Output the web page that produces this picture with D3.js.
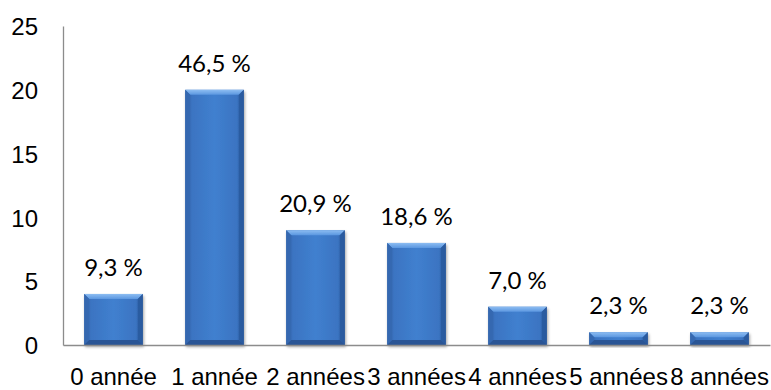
<!DOCTYPE html>
<html>
<head>
<meta charset="utf-8">
<script src="https://cdn.jsdelivr.net/npm/d3@7"></script>
<style>
  html, body { margin: 0; padding: 0; background: #fff; }
  svg { display: block; font-family: Lato, "Open Sans", sans-serif; }
</style>
</head>
<body>
<svg id="chart" width="771" height="390"></svg>
<script>
// Number of respondents per number of years
const categories = ["0 année", "1 année", "2 années", "3 années", "4 années", "5 années", "8 années"];
const counts = [4, 20, 9, 8, 3, 1, 1];
const percentLabels = ["9,3 %", "46,5 %", "20,9 %", "18,6 %", "7,0 %", "2,3 %", "2,3 %"];
const yTicks = [0, 5, 10, 15, 20, 25];

const svg = d3.select("#chart");
const margin = { left: 63, right: 1, top: 26, bottom: 45 };
const W = 771, H = 390;
const fontSize = 24;

const x = d3.scaleBand().domain(categories).range([margin.left, W - margin.right]).paddingInner(0.42).paddingOuter(0.21);
const y = d3.scaleLinear().domain([0, 25]).range([H - margin.bottom, margin.top]);

const defs = svg.append("defs");
const body = defs.append("linearGradient").attr("id", "barBody").attr("x1", 0).attr("x2", 1).attr("y1", 0).attr("y2", 0);
body.append("stop").attr("offset", "0%").attr("stop-color", "#2f62a8");
body.append("stop").attr("offset", "12%").attr("stop-color", "#3b74c2");
body.append("stop").attr("offset", "50%").attr("stop-color", "#4080cf");
body.append("stop").attr("offset", "88%").attr("stop-color", "#3b74c2");
body.append("stop").attr("offset", "100%").attr("stop-color", "#2a5a9c");
const topG = defs.append("linearGradient").attr("id", "barTop").attr("x1", 0).attr("x2", 0).attr("y1", 0).attr("y2", 1);
topG.append("stop").attr("offset", "0%").attr("stop-color", "#8dbdf2");
topG.append("stop").attr("offset", "100%").attr("stop-color", "#5b97e0");
const shadow = defs.append("filter").attr("id", "shadow").attr("x", "-20%").attr("y", "-20%").attr("width", "140%").attr("height", "140%");
shadow.append("feGaussianBlur").attr("in", "SourceAlpha").attr("stdDeviation", 1.5);
shadow.append("feOffset").attr("dx", 1).attr("dy", 2).attr("result", "b");
shadow.append("feComponentTransfer").append("feFuncA").attr("type", "linear").attr("slope", 0.35);
const merge = shadow.append("feMerge");
merge.append("feMergeNode");
merge.append("feMergeNode").attr("in", "SourceGraphic");

// Axes
const axisColor = "#8c8c8c";
const yAxis = svg.append("g").attr("transform", `translate(${margin.left},0)`)
  .call(d3.axisLeft(y).tickValues(yTicks).tickSize(0).tickPadding(25));
yAxis.select(".domain").attr("stroke", axisColor).attr("stroke-width", 1.3);
yAxis.selectAll("text").attr("font-size", fontSize).attr("fill", "#000").attr("text-anchor", "end")
  .attr("dy", "0.36em");

// Bars with bevel
const bev = 5;
const bars = svg.append("g").selectAll("g").data(categories).join("g")
  .attr("filter", "url(#shadow)");
bars.each(function(c, i) {
  const g = d3.select(this);
  const x0 = x(c), w = x.bandwidth(), y0 = y(counts[i]), y1 = y(0);
  const h = y1 - y0;
  const b = Math.min(bev, h / 2);
  g.append("rect").attr("x", x0).attr("y", y0).attr("width", w).attr("height", h).attr("fill", "url(#barBody)");
  // top bevel
  g.append("polygon").attr("points", [[x0, y0], [x0 + w, y0], [x0 + w - b, y0 + b], [x0 + b, y0 + b]].join(" "))
    .attr("fill", "url(#barTop)");
  // left bevel
  g.append("polygon").attr("points", [[x0, y0], [x0 + b, y0 + b], [x0 + b, y1 - b], [x0, y1]].join(" "))
    .attr("fill", "#3568b0").attr("opacity", 0.9);
  // right bevel
  g.append("polygon").attr("points", [[x0 + w, y0], [x0 + w - b, y0 + b], [x0 + w - b, y1 - b], [x0 + w, y1]].join(" "))
    .attr("fill", "#2b5a9e").attr("opacity", 0.9);
  // bottom bevel
  g.append("polygon").attr("points", [[x0, y1], [x0 + b, y1 - b], [x0 + w - b, y1 - b], [x0 + w, y1]].join(" "))
    .attr("fill", "#2a5595");
});

// x axis drawn after bars so the baseline stays on top
const xAxis = svg.append("g").attr("transform", `translate(0,${y(0)})`)
  .call(d3.axisBottom(x).tickSize(0));
xAxis.select(".domain").attr("stroke", axisColor).attr("stroke-width", 1.3);
xAxis.selectAll("text").attr("font-size", fontSize).attr("fill", "#000")
  .attr("y", 40).attr("dy", 0);

// Value labels
svg.append("g").selectAll("text").data(categories).join("text")
  .attr("x", c => x(c) + x.bandwidth() / 2)
  .attr("y", (c, i) => y(counts[i]) - 18)
  .attr("text-anchor", "middle")
  .attr("font-size", fontSize)
  .attr("fill", "#000")
  .text((c, i) => percentLabels[i]);
</script>
</body>
</html>
